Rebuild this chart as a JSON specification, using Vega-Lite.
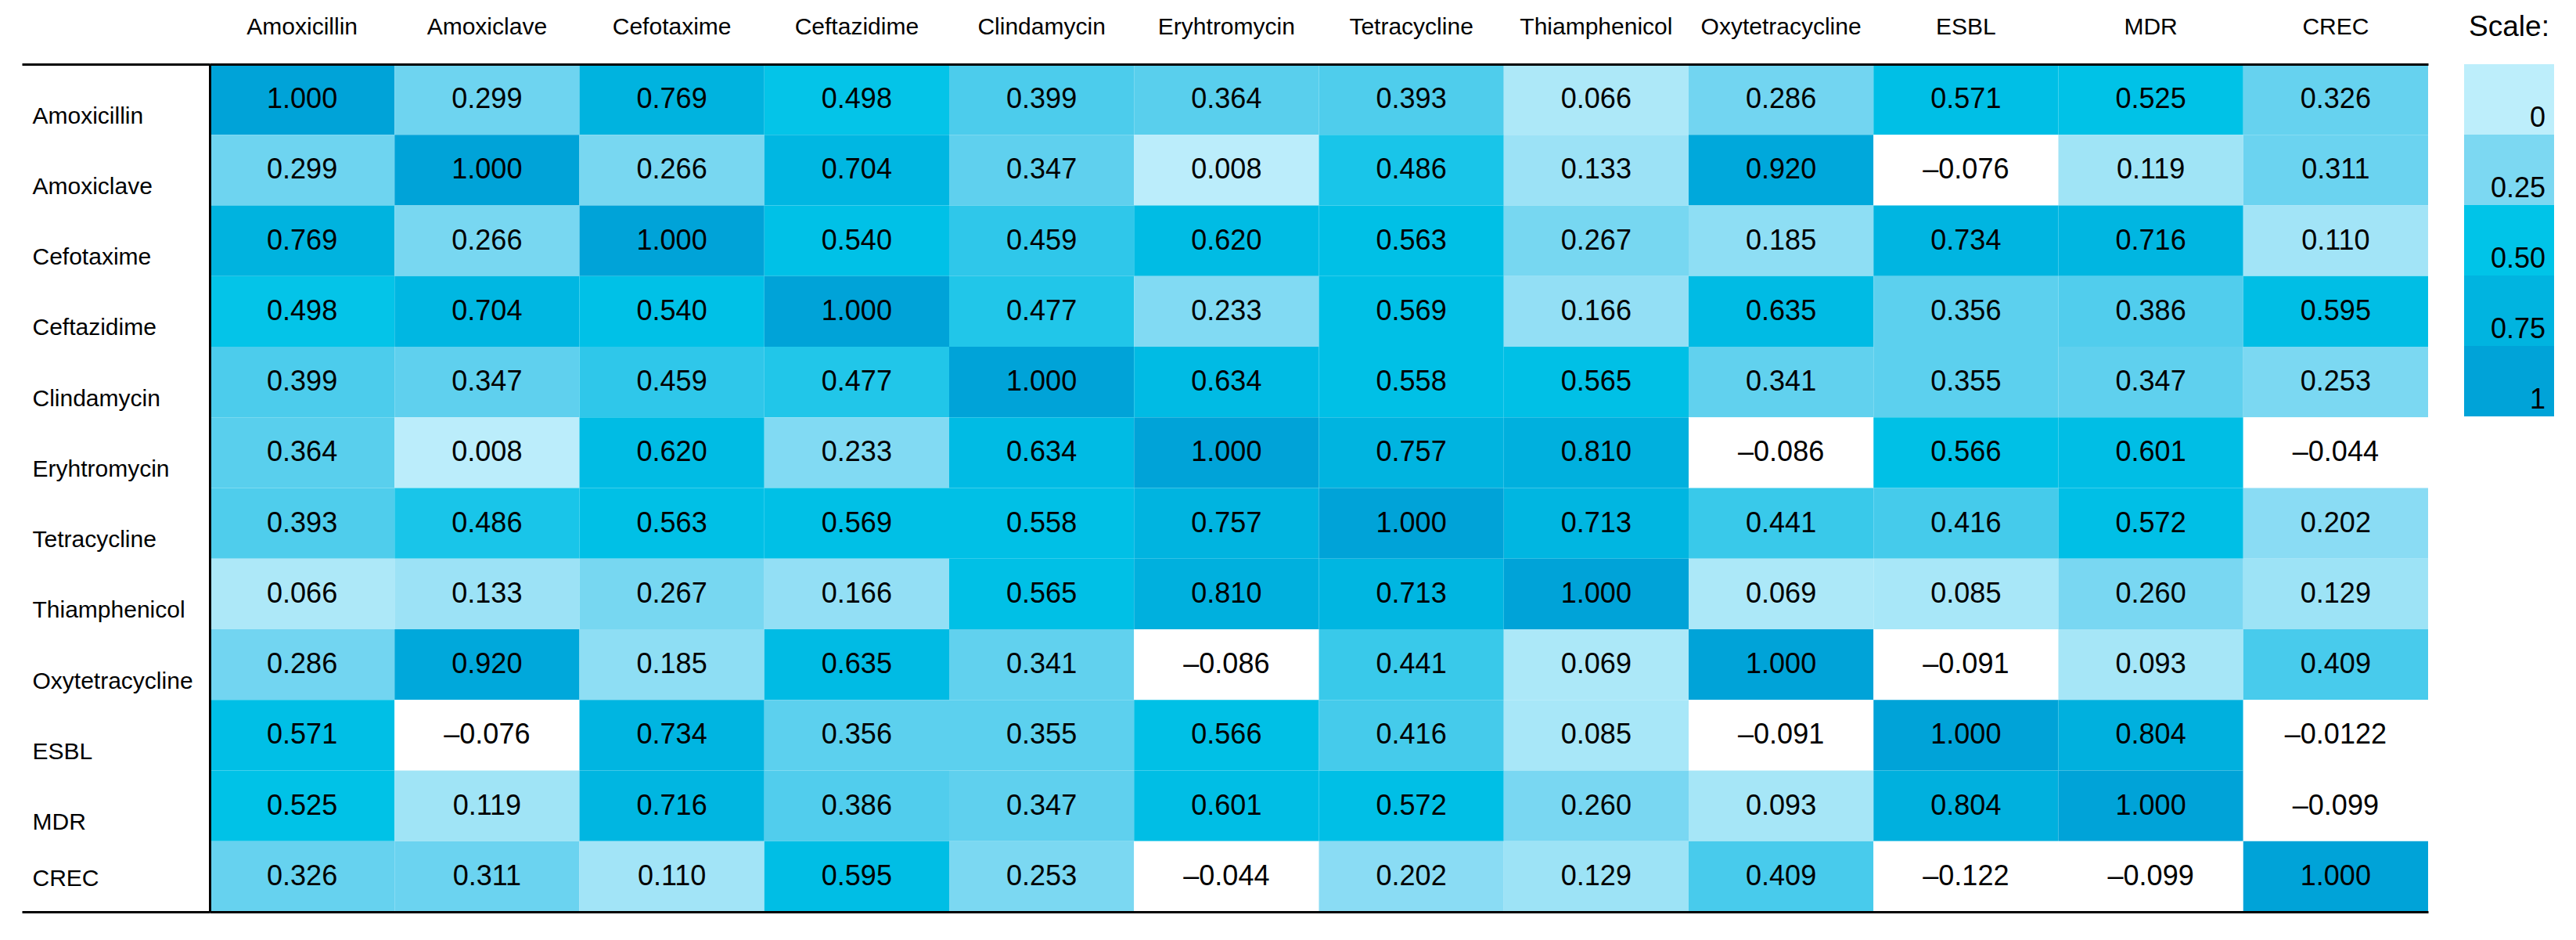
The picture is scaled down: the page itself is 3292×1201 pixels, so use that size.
{
  "$schema": "https://vega.github.io/schema/vega-lite/v6.json",
  "padding": {"left": 26, "top": 16, "right": 0, "bottom": 0},
  "background": "white",
  "config": {
    "view": {"stroke": null},
    "font": "Liberation Sans",
    "text": {"font": "Liberation Sans"},
    "axis": {"labelFont": "Liberation Sans", "labelColor": "black", "labelLimit": 0}
  },
  "spacing": 46,
  "hconcat": [
    {
      "width": 2835,
      "height": 1083,
      "data": {
        "values": [
          {"row":"Amoxicillin","col":"Amoxicillin","value":1.000,"label":"1.000"},
          {"row":"Amoxicillin","col":"Amoxiclave","value":0.299,"label":"0.299"},
          {"row":"Amoxicillin","col":"Cefotaxime","value":0.769,"label":"0.769"},
          {"row":"Amoxicillin","col":"Ceftazidime","value":0.498,"label":"0.498"},
          {"row":"Amoxicillin","col":"Clindamycin","value":0.399,"label":"0.399"},
          {"row":"Amoxicillin","col":"Eryhtromycin","value":0.364,"label":"0.364"},
          {"row":"Amoxicillin","col":"Tetracycline","value":0.393,"label":"0.393"},
          {"row":"Amoxicillin","col":"Thiamphenicol","value":0.066,"label":"0.066"},
          {"row":"Amoxicillin","col":"Oxytetracycline","value":0.286,"label":"0.286"},
          {"row":"Amoxicillin","col":"ESBL","value":0.571,"label":"0.571"},
          {"row":"Amoxicillin","col":"MDR","value":0.525,"label":"0.525"},
          {"row":"Amoxicillin","col":"CREC","value":0.326,"label":"0.326"},

          {"row":"Amoxiclave","col":"Amoxicillin","value":0.299,"label":"0.299"},
          {"row":"Amoxiclave","col":"Amoxiclave","value":1.000,"label":"1.000"},
          {"row":"Amoxiclave","col":"Cefotaxime","value":0.266,"label":"0.266"},
          {"row":"Amoxiclave","col":"Ceftazidime","value":0.704,"label":"0.704"},
          {"row":"Amoxiclave","col":"Clindamycin","value":0.347,"label":"0.347"},
          {"row":"Amoxiclave","col":"Eryhtromycin","value":0.008,"label":"0.008"},
          {"row":"Amoxiclave","col":"Tetracycline","value":0.486,"label":"0.486"},
          {"row":"Amoxiclave","col":"Thiamphenicol","value":0.133,"label":"0.133"},
          {"row":"Amoxiclave","col":"Oxytetracycline","value":0.920,"label":"0.920"},
          {"row":"Amoxiclave","col":"ESBL","value":-0.076,"label":"–0.076"},
          {"row":"Amoxiclave","col":"MDR","value":0.119,"label":"0.119"},
          {"row":"Amoxiclave","col":"CREC","value":0.311,"label":"0.311"},

          {"row":"Cefotaxime","col":"Amoxicillin","value":0.769,"label":"0.769"},
          {"row":"Cefotaxime","col":"Amoxiclave","value":0.266,"label":"0.266"},
          {"row":"Cefotaxime","col":"Cefotaxime","value":1.000,"label":"1.000"},
          {"row":"Cefotaxime","col":"Ceftazidime","value":0.540,"label":"0.540"},
          {"row":"Cefotaxime","col":"Clindamycin","value":0.459,"label":"0.459"},
          {"row":"Cefotaxime","col":"Eryhtromycin","value":0.620,"label":"0.620"},
          {"row":"Cefotaxime","col":"Tetracycline","value":0.563,"label":"0.563"},
          {"row":"Cefotaxime","col":"Thiamphenicol","value":0.267,"label":"0.267"},
          {"row":"Cefotaxime","col":"Oxytetracycline","value":0.185,"label":"0.185"},
          {"row":"Cefotaxime","col":"ESBL","value":0.734,"label":"0.734"},
          {"row":"Cefotaxime","col":"MDR","value":0.716,"label":"0.716"},
          {"row":"Cefotaxime","col":"CREC","value":0.110,"label":"0.110"},

          {"row":"Ceftazidime","col":"Amoxicillin","value":0.498,"label":"0.498"},
          {"row":"Ceftazidime","col":"Amoxiclave","value":0.704,"label":"0.704"},
          {"row":"Ceftazidime","col":"Cefotaxime","value":0.540,"label":"0.540"},
          {"row":"Ceftazidime","col":"Ceftazidime","value":1.000,"label":"1.000"},
          {"row":"Ceftazidime","col":"Clindamycin","value":0.477,"label":"0.477"},
          {"row":"Ceftazidime","col":"Eryhtromycin","value":0.233,"label":"0.233"},
          {"row":"Ceftazidime","col":"Tetracycline","value":0.569,"label":"0.569"},
          {"row":"Ceftazidime","col":"Thiamphenicol","value":0.166,"label":"0.166"},
          {"row":"Ceftazidime","col":"Oxytetracycline","value":0.635,"label":"0.635"},
          {"row":"Ceftazidime","col":"ESBL","value":0.356,"label":"0.356"},
          {"row":"Ceftazidime","col":"MDR","value":0.386,"label":"0.386"},
          {"row":"Ceftazidime","col":"CREC","value":0.595,"label":"0.595"},

          {"row":"Clindamycin","col":"Amoxicillin","value":0.399,"label":"0.399"},
          {"row":"Clindamycin","col":"Amoxiclave","value":0.347,"label":"0.347"},
          {"row":"Clindamycin","col":"Cefotaxime","value":0.459,"label":"0.459"},
          {"row":"Clindamycin","col":"Ceftazidime","value":0.477,"label":"0.477"},
          {"row":"Clindamycin","col":"Clindamycin","value":1.000,"label":"1.000"},
          {"row":"Clindamycin","col":"Eryhtromycin","value":0.634,"label":"0.634"},
          {"row":"Clindamycin","col":"Tetracycline","value":0.558,"label":"0.558"},
          {"row":"Clindamycin","col":"Thiamphenicol","value":0.565,"label":"0.565"},
          {"row":"Clindamycin","col":"Oxytetracycline","value":0.341,"label":"0.341"},
          {"row":"Clindamycin","col":"ESBL","value":0.355,"label":"0.355"},
          {"row":"Clindamycin","col":"MDR","value":0.347,"label":"0.347"},
          {"row":"Clindamycin","col":"CREC","value":0.253,"label":"0.253"},

          {"row":"Eryhtromycin","col":"Amoxicillin","value":0.364,"label":"0.364"},
          {"row":"Eryhtromycin","col":"Amoxiclave","value":0.008,"label":"0.008"},
          {"row":"Eryhtromycin","col":"Cefotaxime","value":0.620,"label":"0.620"},
          {"row":"Eryhtromycin","col":"Ceftazidime","value":0.233,"label":"0.233"},
          {"row":"Eryhtromycin","col":"Clindamycin","value":0.634,"label":"0.634"},
          {"row":"Eryhtromycin","col":"Eryhtromycin","value":1.000,"label":"1.000"},
          {"row":"Eryhtromycin","col":"Tetracycline","value":0.757,"label":"0.757"},
          {"row":"Eryhtromycin","col":"Thiamphenicol","value":0.810,"label":"0.810"},
          {"row":"Eryhtromycin","col":"Oxytetracycline","value":-0.086,"label":"–0.086"},
          {"row":"Eryhtromycin","col":"ESBL","value":0.566,"label":"0.566"},
          {"row":"Eryhtromycin","col":"MDR","value":0.601,"label":"0.601"},
          {"row":"Eryhtromycin","col":"CREC","value":-0.044,"label":"–0.044"},

          {"row":"Tetracycline","col":"Amoxicillin","value":0.393,"label":"0.393"},
          {"row":"Tetracycline","col":"Amoxiclave","value":0.486,"label":"0.486"},
          {"row":"Tetracycline","col":"Cefotaxime","value":0.563,"label":"0.563"},
          {"row":"Tetracycline","col":"Ceftazidime","value":0.569,"label":"0.569"},
          {"row":"Tetracycline","col":"Clindamycin","value":0.558,"label":"0.558"},
          {"row":"Tetracycline","col":"Eryhtromycin","value":0.757,"label":"0.757"},
          {"row":"Tetracycline","col":"Tetracycline","value":1.000,"label":"1.000"},
          {"row":"Tetracycline","col":"Thiamphenicol","value":0.713,"label":"0.713"},
          {"row":"Tetracycline","col":"Oxytetracycline","value":0.441,"label":"0.441"},
          {"row":"Tetracycline","col":"ESBL","value":0.416,"label":"0.416"},
          {"row":"Tetracycline","col":"MDR","value":0.572,"label":"0.572"},
          {"row":"Tetracycline","col":"CREC","value":0.202,"label":"0.202"},

          {"row":"Thiamphenicol","col":"Amoxicillin","value":0.066,"label":"0.066"},
          {"row":"Thiamphenicol","col":"Amoxiclave","value":0.133,"label":"0.133"},
          {"row":"Thiamphenicol","col":"Cefotaxime","value":0.267,"label":"0.267"},
          {"row":"Thiamphenicol","col":"Ceftazidime","value":0.166,"label":"0.166"},
          {"row":"Thiamphenicol","col":"Clindamycin","value":0.565,"label":"0.565"},
          {"row":"Thiamphenicol","col":"Eryhtromycin","value":0.810,"label":"0.810"},
          {"row":"Thiamphenicol","col":"Tetracycline","value":0.713,"label":"0.713"},
          {"row":"Thiamphenicol","col":"Thiamphenicol","value":1.000,"label":"1.000"},
          {"row":"Thiamphenicol","col":"Oxytetracycline","value":0.069,"label":"0.069"},
          {"row":"Thiamphenicol","col":"ESBL","value":0.085,"label":"0.085"},
          {"row":"Thiamphenicol","col":"MDR","value":0.260,"label":"0.260"},
          {"row":"Thiamphenicol","col":"CREC","value":0.129,"label":"0.129"},

          {"row":"Oxytetracycline","col":"Amoxicillin","value":0.286,"label":"0.286"},
          {"row":"Oxytetracycline","col":"Amoxiclave","value":0.920,"label":"0.920"},
          {"row":"Oxytetracycline","col":"Cefotaxime","value":0.185,"label":"0.185"},
          {"row":"Oxytetracycline","col":"Ceftazidime","value":0.635,"label":"0.635"},
          {"row":"Oxytetracycline","col":"Clindamycin","value":0.341,"label":"0.341"},
          {"row":"Oxytetracycline","col":"Eryhtromycin","value":-0.086,"label":"–0.086"},
          {"row":"Oxytetracycline","col":"Tetracycline","value":0.441,"label":"0.441"},
          {"row":"Oxytetracycline","col":"Thiamphenicol","value":0.069,"label":"0.069"},
          {"row":"Oxytetracycline","col":"Oxytetracycline","value":1.000,"label":"1.000"},
          {"row":"Oxytetracycline","col":"ESBL","value":-0.091,"label":"–0.091"},
          {"row":"Oxytetracycline","col":"MDR","value":0.093,"label":"0.093"},
          {"row":"Oxytetracycline","col":"CREC","value":0.409,"label":"0.409"},

          {"row":"ESBL","col":"Amoxicillin","value":0.571,"label":"0.571"},
          {"row":"ESBL","col":"Amoxiclave","value":-0.076,"label":"–0.076"},
          {"row":"ESBL","col":"Cefotaxime","value":0.734,"label":"0.734"},
          {"row":"ESBL","col":"Ceftazidime","value":0.356,"label":"0.356"},
          {"row":"ESBL","col":"Clindamycin","value":0.355,"label":"0.355"},
          {"row":"ESBL","col":"Eryhtromycin","value":0.566,"label":"0.566"},
          {"row":"ESBL","col":"Tetracycline","value":0.416,"label":"0.416"},
          {"row":"ESBL","col":"Thiamphenicol","value":0.085,"label":"0.085"},
          {"row":"ESBL","col":"Oxytetracycline","value":-0.091,"label":"–0.091"},
          {"row":"ESBL","col":"ESBL","value":1.000,"label":"1.000"},
          {"row":"ESBL","col":"MDR","value":0.804,"label":"0.804"},
          {"row":"ESBL","col":"CREC","value":-0.0122,"label":"–0.0122"},

          {"row":"MDR","col":"Amoxicillin","value":0.525,"label":"0.525"},
          {"row":"MDR","col":"Amoxiclave","value":0.119,"label":"0.119"},
          {"row":"MDR","col":"Cefotaxime","value":0.716,"label":"0.716"},
          {"row":"MDR","col":"Ceftazidime","value":0.386,"label":"0.386"},
          {"row":"MDR","col":"Clindamycin","value":0.347,"label":"0.347"},
          {"row":"MDR","col":"Eryhtromycin","value":0.601,"label":"0.601"},
          {"row":"MDR","col":"Tetracycline","value":0.572,"label":"0.572"},
          {"row":"MDR","col":"Thiamphenicol","value":0.260,"label":"0.260"},
          {"row":"MDR","col":"Oxytetracycline","value":0.093,"label":"0.093"},
          {"row":"MDR","col":"ESBL","value":0.804,"label":"0.804"},
          {"row":"MDR","col":"MDR","value":1.000,"label":"1.000"},
          {"row":"MDR","col":"CREC","value":-0.099,"label":"–0.099"},

          {"row":"CREC","col":"Amoxicillin","value":0.326,"label":"0.326"},
          {"row":"CREC","col":"Amoxiclave","value":0.311,"label":"0.311"},
          {"row":"CREC","col":"Cefotaxime","value":0.110,"label":"0.110"},
          {"row":"CREC","col":"Ceftazidime","value":0.595,"label":"0.595"},
          {"row":"CREC","col":"Clindamycin","value":0.253,"label":"0.253"},
          {"row":"CREC","col":"Eryhtromycin","value":-0.044,"label":"–0.044"},
          {"row":"CREC","col":"Tetracycline","value":0.202,"label":"0.202"},
          {"row":"CREC","col":"Thiamphenicol","value":0.129,"label":"0.129"},
          {"row":"CREC","col":"Oxytetracycline","value":0.409,"label":"0.409"},
          {"row":"CREC","col":"ESBL","value":-0.122,"label":"–0.122"},
          {"row":"CREC","col":"MDR","value":-0.099,"label":"–0.099"},
          {"row":"CREC","col":"CREC","value":1.000,"label":"1.000"}
        ]
      },
      "encoding": {
        "x": {
          "field": "col", "type": "nominal",
          "sort": ["Amoxicillin","Amoxiclave","Cefotaxime","Ceftazidime","Clindamycin","Eryhtromycin","Tetracycline","Thiamphenicol","Oxytetracycline","ESBL","MDR","CREC"],
          "scale": {"paddingInner": 0, "paddingOuter": 0},
          "axis": {
            "orient": "top", "title": null, "labelAngle": 0, "domain": false, "ticks": false,
            "labelFontSize": 30, "labelPadding": 33, "labelColor": "black", "labelLimit": 0, "zindex": 1
          }
        },
        "y": {
          "field": "row", "type": "nominal",
          "sort": ["Amoxicillin","Amoxiclave","Cefotaxime","Ceftazidime","Clindamycin","Eryhtromycin","Tetracycline","Thiamphenicol","Oxytetracycline","ESBL","MDR","CREC"],
          "scale": {"paddingInner": 0, "paddingOuter": 0},
          "axis": {
            "orient": "left", "title": null,
            "domain": true, "domainColor": "black", "domainWidth": 3,
            "ticks": true, "tickBand": "extent", "tickSize": 240, "tickWidth": 3,
            "tickColor": {"condition": {"test": "datum.value == 'CREC' || datum.extra", "value": "black"}, "value": "transparent"},
            "grid": true, "gridWidth": 3, "gridOpacity": 1,
            "gridColor": {"condition": {"test": "datum.value == 'CREC' || datum.extra", "value": "black"}, "value": "transparent"},
            "labelAlign": "left", "labelPadding": -13, "labelFontSize": 30, "labelColor": "black", "labelLimit": 0,
            "labelOffset": {"condition": {"test": "datum.value == 'CREC'", "value": 3}, "value": 21},
            "zindex": 1
          }
        }
      },
      "layer": [
        {
          "mark": {"type": "rect", "strokeWidth": 0},
          "encoding": {
            "color": {
              "condition": {"test": "datum.value < 0", "value": "#ffffff"},
              "field": "value", "type": "quantitative",
              "scale": {"domain": [0, 0.25, 0.5, 0.75, 1], "range": ["#bdeefb", "#7cd8f2", "#00c4e8", "#00b4e0", "#00a3d8"], "clamp": true},
              "legend": null
            }
          }
        },
        {
          "mark": {"type": "text", "fontSize": 36, "color": "black", "baseline": "middle", "align": "center"},
          "encoding": {"text": {"field": "label", "type": "nominal"}}
        }
      ]
    },
    {
      "width": 115,
      "height": 450,
      "title": {"text": "Scale:", "fontSize": 37, "fontWeight": "normal", "color": "black", "anchor": "middle", "offset": 28, "font": "Liberation Sans"},
      "data": {
        "values": [
          {"s": "0", "v": 0},
          {"s": "0.25", "v": 0.25},
          {"s": "0.50", "v": 0.5},
          {"s": "0.75", "v": 0.75},
          {"s": "1", "v": 1}
        ]
      },
      "encoding": {
        "y": {"field": "s", "type": "nominal", "sort": null, "scale": {"paddingInner": 0, "paddingOuter": 0}, "axis": null}
      },
      "layer": [
        {
          "mark": {"type": "rect", "strokeWidth": 0},
          "encoding": {
            "color": {
              "field": "v", "type": "quantitative",
              "scale": {"domain": [0, 0.25, 0.5, 0.75, 1], "range": ["#bdeefb", "#7cd8f2", "#00c4e8", "#00b4e0", "#00a3d8"], "clamp": true},
              "legend": null
            }
          }
        },
        {
          "mark": {"type": "text", "fontSize": 36, "color": "black", "align": "right", "baseline": "alphabetic", "dx": -11, "dy": -10},
          "encoding": {
            "x": {"value": "width"},
            "y": {"field": "s", "type": "nominal", "sort": null, "bandPosition": 1},
            "text": {"field": "s", "type": "nominal"}
          }
        }
      ]
    }
  ]
}
